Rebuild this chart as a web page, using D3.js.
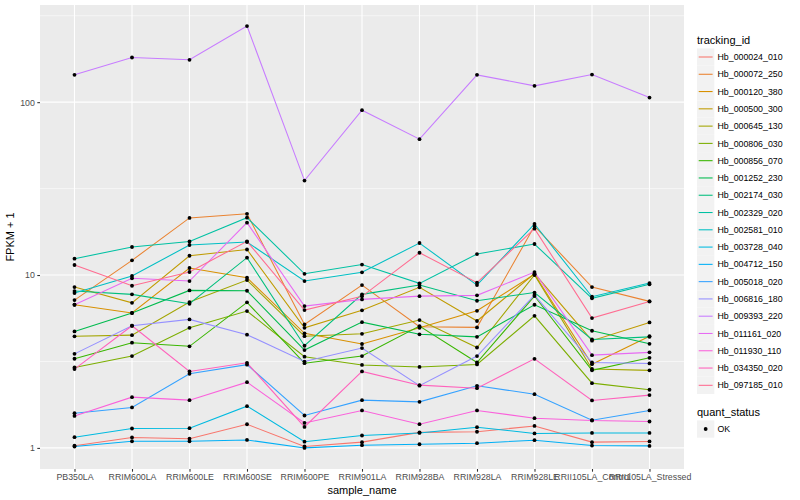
<!DOCTYPE html>
<html>
<head>
<meta charset="utf-8">
<script src="https://cdn.jsdelivr.net/npm/d3@7"></script>
<style>
  html, body { margin: 0; padding: 0; background: #ffffff; }
  svg { display: block; font-family: "Liberation Sans", Arial, Helvetica, sans-serif; }
</style>
</head>
<body>
<svg id="chart" width="800" height="500"></svg>
<script>
// ---------------- DATA ----------------
const categories = ["PB350LA", "RRIM600LA", "RRIM600LE", "RRIM600SE", "RRIM600PE",
  "RRIM901LA", "RRIM928BA", "RRIM928LA", "RRIM928LE", "RRII105LA_Control", "RRII105LA_Stressed"];

const trackingIds = ["Hb_000024_010", "Hb_000072_250", "Hb_000120_380", "Hb_000500_300",
  "Hb_000645_130", "Hb_000806_030", "Hb_000856_070", "Hb_001252_230", "Hb_002174_030",
  "Hb_002329_020", "Hb_002581_010", "Hb_003728_040", "Hb_004712_150", "Hb_005018_020",
  "Hb_006816_180", "Hb_009393_220", "Hb_011161_020", "Hb_011930_110", "Hb_034350_020",
  "Hb_097185_010"];

const seriesColors = ["#F8766D", "#EA8331", "#D89000", "#C09B00", "#A3A500", "#7CAE00",
  "#39B600", "#00BB4E", "#00BF7D", "#00C1A3", "#00BFC4", "#00BAE0", "#00B0F6", "#35A2FF",
  "#9590FF", "#C77CFF", "#E76BF3", "#FA62DB", "#FF62BC", "#FF6C91"];

// FPKM + 1 values per tracking_id, in category order
const hb000024_010 = [1.03, 1.15, 1.13, 1.37, 1.02, 1.08, 1.23, 1.24, 1.34, 1.08, 1.09];
const hb000072_250 = [7.16, 12.16, 21.4, 22.6, 5.18, 8.75, 5.02, 4.98, 19.2, 8.52, 7.04];
const hb000120_380 = [6.73, 6.03, 10.98, 9.65, 4.60, 3.99, 4.95, 6.21, 10.1, 3.05, 4.43];
const hb000500_300 = [8.52, 6.91, 12.93, 14.05, 4.95, 6.25, 8.49, 5.42, 10.2, 4.17, 5.32];
const hb000645_130 = [4.42, 4.49, 6.98, 9.35, 4.43, 4.57, 5.49, 3.81, 10.0, 2.86, 2.81];
const hb000806_030 = [2.92, 3.40, 4.95, 6.19, 3.37, 3.02, 2.94, 3.04, 5.81, 2.37, 2.17];
const hb000856_070 = [3.28, 4.06, 3.87, 6.95, 3.09, 3.40, 5.07, 3.12, 7.56, 2.81, 3.32];
const hb001252_230 = [4.72, 6.03, 8.15, 8.11, 3.68, 5.34, 4.54, 4.39, 6.73, 4.76, 4.00];
const hb002174_030 = [8.08, 7.73, 6.82, 12.60, 3.90, 7.73, 8.75, 7.10, 7.92, 4.24, 4.39];
const hb002329_020 = [12.43, 14.53, 15.63, 21.47, 10.17, 11.5, 8.95, 13.23, 15.12, 7.33, 8.84];
const hb002581_010 = [7.87, 9.87, 14.92, 15.53, 9.23, 10.37, 15.32, 8.75, 19.74, 7.49, 8.99];
const hb003728_040 = [1.153, 1.295, 1.30, 1.744, 1.086, 1.18, 1.221, 1.318, 1.212, 1.221, 1.221];
const hb004712_150 = [1.019, 1.093, 1.093, 1.112, 1.00, 1.037, 1.05, 1.065, 1.108, 1.032, 1.027];
const hb005018_020 = [1.588, 1.714, 2.683, 3.032, 1.540, 1.889, 1.847, 2.286, 2.046, 1.447, 1.647];
const hb006816_180 = [3.50, 5.09, 5.54, 4.52, 3.16, 3.78, 2.29, 3.40, 7.66, 3.12, 3.08];
const hb009393_220 = [143.9, 181.3, 175.8, 275.5, 35.2, 89.9, 61.1, 143.9, 124.3, 144.5, 106.3];
const hb011161_020 = [6.73, 9.58, 9.23, 20.1, 6.61, 7.23, 7.55, 7.63, 10.4, 3.44, 3.57];
const hb011930_110 = [1.532, 1.966, 1.889, 2.401, 1.395, 1.647, 1.371, 1.647, 1.486, 1.441, 1.422];
const hb034350_020 = [2.856, 5.09, 2.77, 3.106, 1.323, 2.77, 2.307, 2.216, 3.276, 1.882, 2.02];
const hb097185_010 = [11.43, 8.67, 10.41, 15.67, 6.27, 7.53, 13.46, 9.03, 18.54, 5.64, 7.04];

const seriesValues = [hb000024_010, hb000072_250, hb000120_380, hb000500_300, hb000645_130,
  hb000806_030, hb000856_070, hb001252_230, hb002174_030, hb002329_020, hb002581_010,
  hb003728_040, hb004712_150, hb005018_020, hb006816_180, hb009393_220, hb011161_020,
  hb011930_110, hb034350_020, hb097185_010];

const yTicks = [1, 10, 100];
const yMinor = [Math.pow(10, 0.5), Math.pow(10, 1.5), Math.pow(10, 2.5)];
const statusLevels = ["OK"];

// ---------------- LAYOUT ----------------
const panel = { left: 40, right: 684, top: 5, bottom: 469 };
const svg = d3.select("#chart");

const series = trackingIds.map((id, i) => ({
  id, color: seriesColors[i],
  points: categories.map((c, j) => ({ cat: c, v: seriesValues[i][j] }))
}));

const allVals = seriesValues.flat();
const lo = Math.log10(d3.min(allVals)), hi = Math.log10(d3.max(allVals));
const pad = (hi - lo) * 0.05;

const x = d3.scalePoint().domain(categories).range([panel.left, panel.right]).padding(0.6);
const y = d3.scaleLog().domain([Math.pow(10, lo - pad), Math.pow(10, hi + pad)])
  .range([panel.bottom, panel.top]);

// panel background
svg.append("rect").attr("x", panel.left).attr("y", panel.top)
  .attr("width", panel.right - panel.left).attr("height", panel.bottom - panel.top)
  .attr("fill", "#EBEBEB");

const grid = svg.append("g");
grid.selectAll("line.minor").data(yMinor).join("line")
  .attr("x1", panel.left).attr("x2", panel.right)
  .attr("y1", d => y(d)).attr("y2", d => y(d))
  .attr("stroke", "#ffffff").attr("stroke-width", 0.55);
grid.selectAll("line.majy").data(yTicks).join("line")
  .attr("x1", panel.left).attr("x2", panel.right)
  .attr("y1", d => y(d)).attr("y2", d => y(d))
  .attr("stroke", "#ffffff").attr("stroke-width", 1.1);
grid.selectAll("line.majx").data(categories).join("line")
  .attr("x1", d => x(d)).attr("x2", d => x(d))
  .attr("y1", panel.top).attr("y2", panel.bottom)
  .attr("stroke", "#ffffff").attr("stroke-width", 1.1);

// axes
const yAxis = d3.axisLeft(y).tickValues(yTicks).tickFormat(d3.format("d")).tickSize(2.7).tickPadding(2.5);
const gy = svg.append("g").attr("transform", `translate(${panel.left},0)`).call(yAxis);
gy.select(".domain").remove();
gy.selectAll(".tick line").attr("stroke", "#333333").attr("stroke-width", 1.07);
gy.selectAll(".tick text").attr("fill", "#4D4D4D").style("font-size", "8.8px")
  .style("font-family", "'Liberation Sans', Arial, sans-serif");

const xAxis = d3.axisBottom(x).tickSize(2.7).tickPadding(2.5);
const gx = svg.append("g").attr("transform", `translate(0,${panel.bottom})`).call(xAxis);
gx.select(".domain").remove();
gx.selectAll(".tick line").attr("stroke", "#333333").attr("stroke-width", 1.07);
gx.selectAll(".tick text").attr("fill", "#4D4D4D").style("font-size", "8.8px")
  .style("font-family", "'Liberation Sans', Arial, sans-serif");

// axis titles
svg.append("text").attr("x", (panel.left + panel.right) / 2).attr("y", 494)
  .attr("text-anchor", "middle").style("font-size", "11px").attr("fill", "#000")
  .text("sample_name");
svg.append("text").attr("transform", `translate(14,${(panel.top + panel.bottom) / 2}) rotate(-90)`)
  .attr("text-anchor", "middle").style("font-size", "11px").attr("fill", "#000")
  .text("FPKM + 1");

// lines
const line = d3.line().x(d => x(d.cat)).y(d => y(d.v));
svg.append("g").selectAll("path").data(series).join("path")
  .attr("d", d => line(d.points)).attr("fill", "none")
  .attr("stroke", d => d.color).attr("stroke-width", 1.07);

// points
const pts = series.flatMap(s => s.points);
svg.append("g").selectAll("circle").data(pts).join("circle")
  .attr("cx", d => x(d.cat)).attr("cy", d => y(d.v)).attr("r", 1.9)
  .attr("fill", "#000");

// legend: tracking_id
const lg = svg.append("g");
const lx = 697, ly0 = 57, lstep = 17.28;
lg.append("text").attr("x", lx).attr("y", 44).style("font-size", "11px").attr("fill", "#000")
  .text("tracking_id");
const items = lg.selectAll("g.item").data(series).join("g")
  .attr("transform", (d, i) => `translate(${lx},${ly0 + i * lstep})`);
items.append("rect").attr("x", 0).attr("y", -8.6).attr("width", 17.3).attr("height", 17.3)
  .attr("fill", "#F2F2F2");
items.append("line").attr("x1", 1.7).attr("x2", 15.6).attr("y1", 0).attr("y2", 0)
  .attr("stroke", d => d.color).attr("stroke-width", 1.07);
items.append("text").attr("x", 20.5).attr("y", 3.1).style("font-size", "8.8px").attr("fill", "#000")
  .text(d => d.id);

// legend: quant_status
const qy = 412;
lg.append("text").attr("x", lx).attr("y", qy + 4).style("font-size", "11px").attr("fill", "#000")
  .text("quant_status");
const q = lg.selectAll("g.q").data(statusLevels).join("g")
  .attr("transform", (d, i) => `translate(${lx},${429 + i * lstep})`);
q.append("rect").attr("x", 0).attr("y", -8.6).attr("width", 17.3).attr("height", 17.3).attr("fill", "#F2F2F2");
q.append("circle").attr("cx", 8.65).attr("cy", 0).attr("r", 1.9).attr("fill", "#000");
q.append("text").attr("x", 20.5).attr("y", 3.1).style("font-size", "8.8px").attr("fill", "#000").text(d => d);
</script>
</body>
</html>
